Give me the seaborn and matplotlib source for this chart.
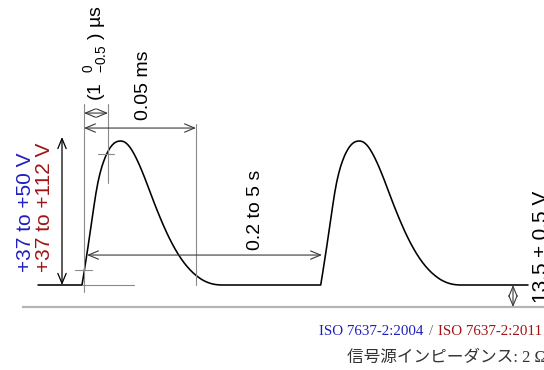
import numpy as np
import pandas as pd
import seaborn as sns
import matplotlib.pyplot as plt

sns.set_theme(style="white")
plt.rcParams["font.family"] = ["Liberation Sans", "DejaVu Sans"]
plt.rcParams["mathtext.fontset"] = "custom"
plt.rcParams["mathtext.rm"] = "Liberation Sans"
plt.rcParams["mathtext.it"] = "Liberation Sans"

# Pulse 2a shape: time from start of rise (schematic units), normalised voltage
pulse_t = [0, 2, 4, 6, 8, 10, 12, 14, 16, 18, 20, 22, 24, 26, 28, 30, 32, 34,
           36, 38, 40, 42, 44, 46, 48, 50, 52, 54, 56, 58, 60, 63, 66, 69, 72,
           75, 78, 81, 84, 87, 90, 93, 96, 99, 102, 105, 108, 111, 114, 117,
           120, 123, 126, 129, 132, 135, 139]
pulse_v = [0.0, 0.085, 0.175, 0.265, 0.36, 0.455, 0.55, 0.64, 0.715, 0.775,
           0.825, 0.865, 0.90, 0.928, 0.952, 0.970, 0.984, 0.993, 0.998, 1.0,
           0.999, 0.995, 0.986, 0.973, 0.956, 0.935, 0.911, 0.884, 0.855,
           0.824, 0.791, 0.739, 0.684, 0.629, 0.574, 0.521, 0.470, 0.421,
           0.374, 0.330, 0.289, 0.251, 0.216, 0.184, 0.155, 0.129, 0.106,
           0.085, 0.067, 0.051, 0.037, 0.026, 0.017, 0.010, 0.005, 0.002, 0.0]
pulse_starts = [0.0, 238.7]
trace_span = [-44.0, 446.0]
ground_v = -0.153

# Dimension labels
amp_label_2004 = "+37 to +50 V"
amp_label_2011 = "+37 to +112 V"
rise_label = r"(1  ${}^{\mathrm{0}}_{\mathrm{-0.5}}$ ) µs"
width_label = "0.05 ms"
period_label = "0.2 to 5 s"
offset_label = "13.5 ± 0.5 V"
std_2004 = "ISO 7637-2:2004"
std_2011 = "ISO 7637-2:2011"
impedance_label = "信号源インピーダンス: 2 Ω"

BLUE = "#1f1fbf"
RED = "#a01414"
DIM = "#3a3a3a"
REF = "#8a8a8a"

# Assemble the waveform trace
t_vals = [trace_span[0]]
v_vals = [0.0]
for s in pulse_starts:
    t_vals += [s + t for t in pulse_t]
    v_vals += pulse_v
t_vals.append(trace_span[1])
v_vals.append(0.0)
wave = pd.DataFrame({"t": t_vals, "v": v_vals})

fig = plt.figure(figsize=(5.44, 3.70), dpi=100)
ax = fig.add_axes([0, 0, 1, 1])

# ground reference
ax.plot([-60, 470], [ground_v, ground_v], color="#b5b5b5", lw=1.6,
        solid_capstyle="butt")

sns.lineplot(data=wave, x="t", y="v", sort=False, estimator=None,
             color="black", lw=1.15, ax=ax)
for line in ax.get_lines():
    line.set_solid_joinstyle("round")

# reference construction lines
ref_kw = dict(color=REF, lw=0.8)
ax.plot([2, 2], [-0.049, 1.257], **ref_kw)
ax.plot([26, 26], [0.708, 1.257], **ref_kw)
ax.plot([114, 114], [0.0, 1.118], **ref_kw)
ax.plot([0, 52], [0.0, 0.0], **ref_kw)
ax.plot([16, 32], [0.910, 0.910], **ref_kw)
ax.plot([-7, 10], [0.104, 0.104], **ref_kw)


def dim_arrow(p0, p1, color=DIM, lw=0.8):
    ax.annotate("", xy=p1, xytext=p0,
                arrowprops=dict(arrowstyle="<->,head_length=0.6,head_width=0.25",
                                color=color, lw=lw, shrinkA=0, shrinkB=0))


dim_arrow((-20, 0.0), (-20, 1.028), color="black", lw=0.9)
dim_arrow((2, 1.194), (26, 1.194))
dim_arrow((2, 1.090), (114, 1.090))
dim_arrow((5, 0.208), (240, 0.208))
dim_arrow((431, 0.0), (431, ground_v))

# rotated labels
ax.text(-56, 0.09, amp_label_2004, rotation=90, color=BLUE, fontsize=15,
        ha="center", va="bottom")
ax.text(-37, 0.09, amp_label_2011, rotation=90, color=RED, fontsize=15,
        ha="center", va="bottom")
ax.text(14, 1.28, rise_label, rotation=90, color="black", fontsize=14,
        ha="center", va="bottom")
ax.text(61.5, 1.146, width_label, rotation=90, color="black", fontsize=14,
        ha="center", va="bottom")
ax.text(173, 0.243, period_label, rotation=90, color="black", fontsize=14,
        ha="center", va="bottom")
ax.text(450, -0.125, offset_label, rotation=90, color="black", fontsize=15,
        ha="left", va="bottom")

# standard references and source impedance
serif = ["Liberation Serif", "DejaVu Serif"]
ax.text(341, -0.324, std_2004, color=BLUE, fontsize=10.8, family=serif,
        ha="right", va="center")
ax.text(348.7, -0.324, "/", color="#666666", fontsize=10.8, family=serif,
        ha="center", va="center")
ax.text(356, -0.324, std_2011, color=RED, fontsize=10.8, family=serif,
        ha="left", va="center")
ax.text(265, -0.504, impedance_label, color="#333333", fontsize=12,
        family=["Liberation Serif", "Noto Sans CJK JP"], ha="left", va="center")

ax.set_xlim(-82, 462)
ax.set_ylim(-0.5903, 1.9792)
ax.axis("off")

fig.savefig("out.png", dpi=100)
